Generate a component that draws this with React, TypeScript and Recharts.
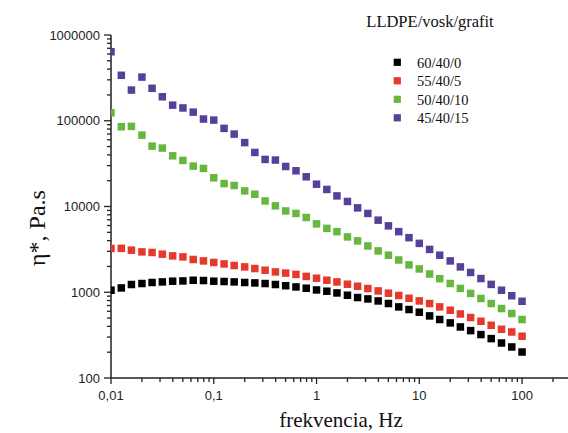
import React from 'react';
import { ScatterChart, Scatter, XAxis, YAxis, Legend } from 'recharts';

const FREQ = [0.01, 0.0126, 0.0158, 0.02, 0.0251, 0.0316, 0.0398, 0.0501, 0.0631, 0.0794, 0.1, 0.126, 0.158, 0.2, 0.251, 0.316, 0.398, 0.501, 0.631, 0.794, 1, 1.26, 1.58, 2, 2.51, 3.16, 3.98, 5.01, 6.31, 7.94, 10, 12.6, 15.8, 20, 25.1, 31.6, 39.8, 50.1, 63.1, 79.4, 100];

const ETA_60_40_0 = [1056, 1123, 1231, 1264, 1300, 1320, 1345, 1355, 1380, 1370, 1345, 1334, 1320, 1300, 1285, 1264, 1231, 1192, 1153, 1114, 1064, 1028, 982, 923, 868, 836, 792, 739, 675, 629, 585, 530, 481, 439, 394, 357, 321, 288, 256, 230, 201];
const ETA_55_40_5 = [3240, 3250, 3095, 2955, 2910, 2780, 2655, 2585, 2410, 2320, 2225, 2140, 2050, 1975, 1890, 1807, 1726, 1672, 1615, 1530, 1458, 1380, 1320, 1241, 1175, 1105, 1036, 975, 916, 851, 792, 739, 675, 617, 558, 507, 459, 412, 370, 344, 307];
const ETA_50_40_10 = [124000, 85100, 86000, 68000, 50600, 48000, 39000, 34450, 29600, 27800, 21600, 18500, 17600, 15200, 13900, 11600, 10180, 8870, 8300, 7450, 6270, 5560, 5090, 4420, 3970, 3465, 3035, 2705, 2377, 2085, 1870, 1633, 1439, 1264, 1109, 969, 847, 739, 646, 565, 481];
const ETA_45_40_15 = [638000, 339000, 228000, 323000, 239000, 190500, 152000, 141000, 126000, 104700, 101800, 81500, 69900, 55600, 42700, 35400, 34800, 29300, 26100, 22200, 18200, 15800, 13300, 11450, 9640, 8300, 6930, 5950, 5090, 4330, 3715, 3160, 2705, 2320, 1975, 1700, 1445, 1235, 1056, 910, 785];

const SERIES_NAMES = ['60/40/0', '55/40/5', '50/40/10', '45/40/15'];
const SERIES_COLORS = ['#000000', '#e5392b', '#67b73f', '#56409a'];
const SERIES_VALUES = [ETA_60_40_0, ETA_55_40_5, ETA_50_40_10, ETA_45_40_15];

const X_MAJOR = [0.01, 0.1, 1, 10, 100];
const X_LABELS = ['0,01', '0,1', '1', '10', '100'];
const Y_MAJOR = [100, 1000, 10000, 100000, 1000000];
const Y_LABELS = ['100', '1000', '10000', '100000', '1000000'];
const MULT = [2, 3, 4, 5, 6, 7, 8, 9];

const X_TICKS: number[] = [];
X_MAJOR.forEach((m) => {
  X_TICKS.push(m);
  MULT.forEach((k) => { if (m * k <= 280) X_TICKS.push(+(m * k).toPrecision(6)); });
});
const Y_TICKS: number[] = [];
Y_MAJOR.forEach((m) => {
  Y_TICKS.push(m);
  if (m < 1000000) MULT.forEach((k) => Y_TICKS.push(m * k));
});

const SANS = '"Liberation Sans", Arial, sans-serif';
const SERIF = '"Liberation Serif", "Times New Roman", serif';
const AXIS_COLOR = '#222';

const findMajor = (arr: number[], v: number) => arr.findIndex((m) => Math.abs(m - v) / m < 1e-6);

const XTick = (props: any) => {
  const { x, y, payload } = props;
  const idx = findMajor(X_MAJOR, payload.value);
  const major = idx >= 0;
  return (
    <g>
      <line x1={x} x2={x} y1={y} y2={y + (major ? 6 : 4)} stroke={AXIS_COLOR} strokeWidth={1.3} />
      {major && (
        <text x={x} y={y + 22} textAnchor="middle" fontSize={13} fontFamily={SANS} fill="#222">
          {X_LABELS[idx]}
        </text>
      )}
    </g>
  );
};

const YTick = (props: any) => {
  const { x, y, payload } = props;
  const idx = findMajor(Y_MAJOR, payload.value);
  const major = idx >= 0;
  return (
    <g>
      <line x1={x} x2={x - (major ? 7 : 4)} y1={y} y2={y} stroke={AXIS_COLOR} strokeWidth={1.3} />
      {major && (
        <text x={x - 11} y={y + 4.6} textAnchor="end" fontSize={13} fontFamily={SANS} fill="#222">
          {Y_LABELS[idx]}
        </text>
      )}
    </g>
  );
};

const Square = (props: any) => {
  const { cx, cy, fill } = props;
  if (cx == null || cy == null) return null;
  const s = 7.5;
  return <rect x={cx - s / 2} y={cy - s / 2} width={s} height={s} fill={fill} />;
};

const LegendBox = () => (
  <svg width={568} height={140} style={{ display: 'block' }}>
    <text x={430} y={27} textAnchor="middle" fontSize={16.5} fontFamily={SERIF} fill="#111">
      LLDPE/vosk/grafit
    </text>
    {SERIES_NAMES.map((n, i) => (
      <g key={n}>
        <rect x={397.3 - 3.6} y={62.3 + i * 18.5 - 3.6} width={7.2} height={7.2} fill={SERIES_COLORS[i]} />
        <text x={417} y={67.6 + i * 18.5} fontSize={14.5} fontFamily={SERIF} fill="#111">
          {n}
        </text>
      </g>
    ))}
  </svg>
);

const XLabel = () => (
  <text x={341} y={427} textAnchor="middle" fontSize={21} fontFamily={SERIF} fill="#111">
    frekvencia, Hz
  </text>
);

const YLabel = () => (
  <text x={45} y={228} transform="rotate(-90 45 228)" textAnchor="middle" fontSize={24} fontFamily={SERIF} fill="#111">
    η*, Pa.s
  </text>
);

export default function App() {
  const seriesData = SERIES_VALUES.map((vals) => FREQ.map((f, i) => ({ x: f, y: vals[i] })));
  return (
    <div style={{ position: 'absolute', left: 0, top: 0, width: 568, height: 433, background: '#fff' }}>
      <ScatterChart width={568} height={433} margin={{ top: 35, right: 0, bottom: 0, left: 0 }}>
        <XAxis
          type="number"
          dataKey="x"
          scale="log"
          domain={[0.01, 280]}
          allowDataOverflow
          ticks={X_TICKS}
          interval={0}
          tick={<XTick />}
          tickLine={false}
          tickSize={0}
          tickMargin={0}
          axisLine={{ stroke: AXIS_COLOR, strokeWidth: 1.5 }}
          height={55}
          label={<XLabel />}
        />
        <YAxis
          type="number"
          dataKey="y"
          scale="log"
          domain={[100, 1000000]}
          allowDataOverflow
          ticks={Y_TICKS}
          interval={0}
          tick={<YTick />}
          tickLine={false}
          tickSize={0}
          tickMargin={0}
          axisLine={{ stroke: AXIS_COLOR, strokeWidth: 1.5 }}
          width={111}
          label={<YLabel />}
        />
        <Legend
          layout="vertical"
          align="center"
          verticalAlign="middle"
          wrapperStyle={{ position: 'absolute', left: 0, top: 0, width: 568, height: 140 }}
          content={() => <LegendBox />}
        />
        {SERIES_NAMES.map((n, i) => (
          <Scatter
            key={n}
            name={n}
            data={seriesData[i]}
            fill={SERIES_COLORS[i]}
            shape={<Square />}
            isAnimationActive={false}
          />
        ))}
      </ScatterChart>
    </div>
  );
}
